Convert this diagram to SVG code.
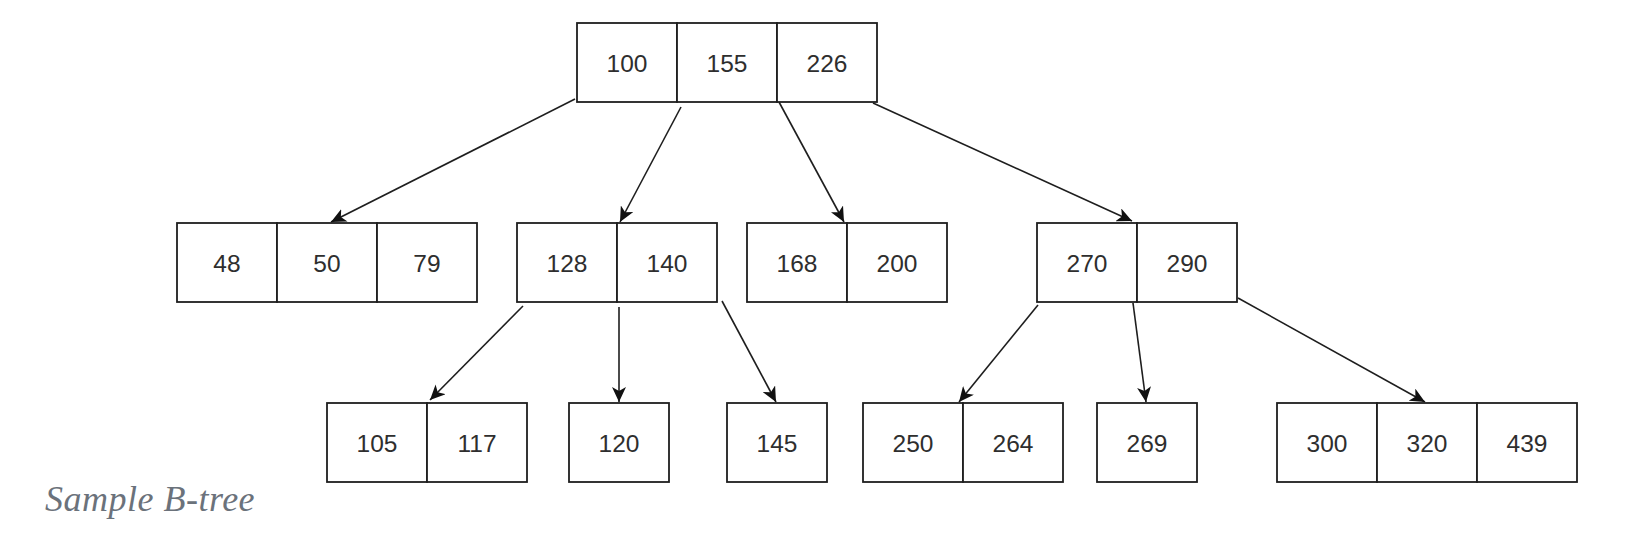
<svg xmlns="http://www.w3.org/2000/svg" width="1650" height="548" viewBox="0 0 1650 548">
<defs>
<style>
.cell{fill:#ffffff;stroke:#1e1e1e;stroke-width:1.8}
.lbl{font-family:"Liberation Sans",Arial,sans-serif;font-size:24.5px;fill:#2e2e2e;text-anchor:middle}
.edge{stroke:#1e1e1e;stroke-width:1.6;fill:none;marker-end:url(#arr)}
.cap{font-family:"Liberation Serif","Times New Roman",serif;font-style:italic;font-size:36px;fill:#6b727b;letter-spacing:0.5px}
</style>
<marker id="arr" markerUnits="userSpaceOnUse" markerWidth="16" markerHeight="14" refX="15" refY="7" orient="auto">
<path d="M0,0 L15,7 L0,14 L4,7 z" fill="#111111"/>
</marker>
</defs>
<rect width="1650" height="548" fill="#ffffff"/>

<g id="edges">
<line class="edge" x1="575" y1="99" x2="331" y2="222"/>
<line class="edge" x1="681" y1="107" x2="620" y2="222"/>
<line class="edge" x1="779" y1="102" x2="844" y2="222"/>
<line class="edge" x1="873" y1="103" x2="1132" y2="221"/>
<line class="edge" x1="523" y1="306" x2="430" y2="400"/>
<line class="edge" x1="619" y1="307" x2="619" y2="402"/>
<line class="edge" x1="722" y1="301" x2="776" y2="402"/>
<line class="edge" x1="1038" y1="305" x2="959" y2="402"/>
<line class="edge" x1="1133" y1="303" x2="1146" y2="402"/>
<line class="edge" x1="1238" y1="298" x2="1425" y2="402"/>
</g>

<g id="n-root">
<rect class="cell" x="577" y="23" width="100" height="79"/>
<rect class="cell" x="677" y="23" width="100" height="79"/>
<rect class="cell" x="777" y="23" width="100" height="79"/>
<text class="lbl" x="627" y="72">100</text>
<text class="lbl" x="727" y="72">155</text>
<text class="lbl" x="827" y="72">226</text>
</g>

<g id="n-48">
<rect class="cell" x="177" y="223" width="100" height="79"/>
<rect class="cell" x="277" y="223" width="100" height="79"/>
<rect class="cell" x="377" y="223" width="100" height="79"/>
<text class="lbl" x="227" y="272">48</text>
<text class="lbl" x="327" y="272">50</text>
<text class="lbl" x="427" y="272">79</text>
</g>

<g id="n-128">
<rect class="cell" x="517" y="223" width="100" height="79"/>
<rect class="cell" x="617" y="223" width="100" height="79"/>
<text class="lbl" x="567" y="272">128</text>
<text class="lbl" x="667" y="272">140</text>
</g>

<g id="n-168">
<rect class="cell" x="747" y="223" width="100" height="79"/>
<rect class="cell" x="847" y="223" width="100" height="79"/>
<text class="lbl" x="797" y="272">168</text>
<text class="lbl" x="897" y="272">200</text>
</g>

<g id="n-270">
<rect class="cell" x="1037" y="223" width="100" height="79"/>
<rect class="cell" x="1137" y="223" width="100" height="79"/>
<text class="lbl" x="1087" y="272">270</text>
<text class="lbl" x="1187" y="272">290</text>
</g>

<g id="n-105">
<rect class="cell" x="327" y="403" width="100" height="79"/>
<rect class="cell" x="427" y="403" width="100" height="79"/>
<text class="lbl" x="377" y="452">105</text>
<text class="lbl" x="477" y="452">117</text>
</g>

<g id="n-120">
<rect class="cell" x="569" y="403" width="100" height="79"/>
<text class="lbl" x="619" y="452">120</text>
</g>

<g id="n-145">
<rect class="cell" x="727" y="403" width="100" height="79"/>
<text class="lbl" x="777" y="452">145</text>
</g>

<g id="n-250">
<rect class="cell" x="863" y="403" width="100" height="79"/>
<rect class="cell" x="963" y="403" width="100" height="79"/>
<text class="lbl" x="913" y="452">250</text>
<text class="lbl" x="1013" y="452">264</text>
</g>

<g id="n-269">
<rect class="cell" x="1097" y="403" width="100" height="79"/>
<text class="lbl" x="1147" y="452">269</text>
</g>

<g id="n-300">
<rect class="cell" x="1277" y="403" width="100" height="79"/>
<rect class="cell" x="1377" y="403" width="100" height="79"/>
<rect class="cell" x="1477" y="403" width="100" height="79"/>
<text class="lbl" x="1327" y="452">300</text>
<text class="lbl" x="1427" y="452">320</text>
<text class="lbl" x="1527" y="452">439</text>
</g>

<text class="cap" x="45" y="511">Sample B-tree</text>
</svg>
